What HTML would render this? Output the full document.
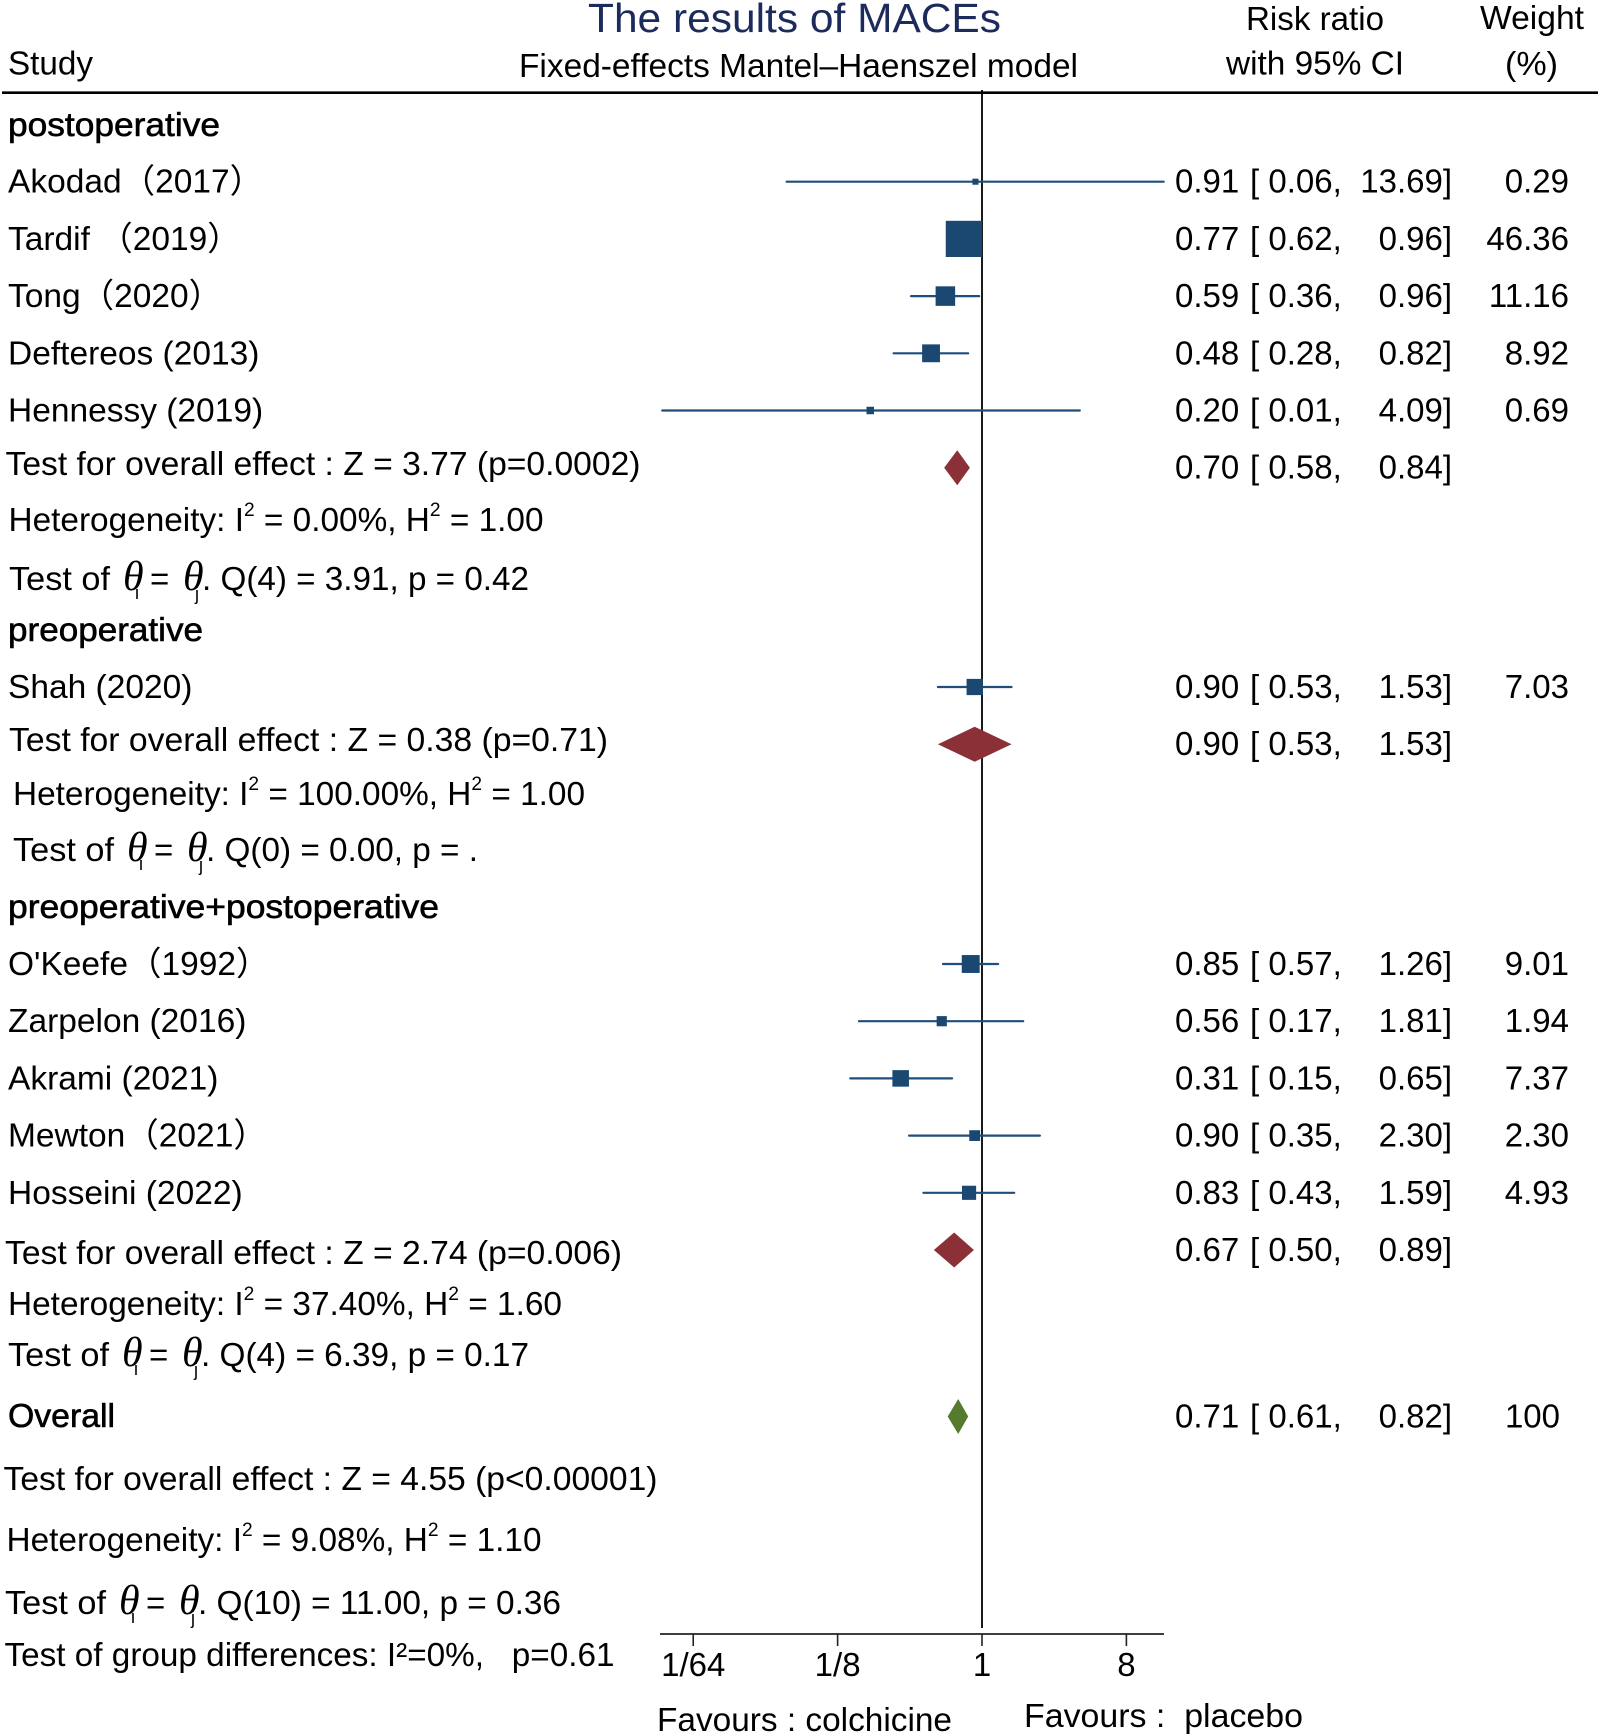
<!DOCTYPE html>
<html lang="en">
<head>
<meta charset="utf-8">
<title>The results of MACEs</title>
<style>
html,body{margin:0;padding:0;background:#fff;}
svg{display:block;}
text{font-family:"Liberation Sans","Noto Sans CJK SC",sans-serif;font-size:33px;fill:#000;}
.head{stroke:#000;stroke-width:.6px;}
.theta{font-family:"Liberation Serif",serif;font-style:italic;font-size:42px;}
.sub{font-size:18px;}
.study{font-size:33.5px;}
</style>
</head>
<body>
<svg id="chart" xmlns="http://www.w3.org/2000/svg" width="1600" height="1736" viewBox="0 0 1600 1736">
<rect x="0" y="0" width="1600" height="1736" fill="#fff"/>

<text x="588" y="32" style="font-size:41px;fill:#1c2b5c" textLength="413" lengthAdjust="spacingAndGlyphs">The results of MACEs</text>
<text x="8" y="74.5" textLength="85" lengthAdjust="spacingAndGlyphs">Study</text>
<text x="519" y="77" textLength="559" lengthAdjust="spacingAndGlyphs">Fixed-effects Mantel–Haenszel model</text>
<text x="1246" y="30" textLength="138" lengthAdjust="spacingAndGlyphs">Risk ratio</text>
<text x="1226" y="74.5" textLength="178" lengthAdjust="spacingAndGlyphs">with 95% CI</text>
<text x="1480" y="29" textLength="104" lengthAdjust="spacingAndGlyphs">Weight</text>
<text x="1505" y="75" textLength="53" lengthAdjust="spacingAndGlyphs">(%)</text>
<line x1="2" y1="92.7" x2="1598" y2="92.7" stroke="#000" stroke-width="2.6"/>

<text class="head" x="8" y="136" textLength="212" lengthAdjust="spacingAndGlyphs">postoperative</text>
<text x="5.5" y="475" textLength="635" lengthAdjust="spacingAndGlyphs">Test for overall effect : Z = 3.77 (p=0.0002)</text>
<text x="8.5" y="531" textLength="535" lengthAdjust="spacingAndGlyphs">Heterogeneity: I<tspan dy="-15" style="font-size:19px">2</tspan><tspan dy="15"> = 0.00%, H</tspan><tspan dy="-15" style="font-size:19px">2</tspan><tspan dy="15"> = 1.00</tspan></text>
<g>
  <text x="9" y="590" textLength="101" lengthAdjust="spacingAndGlyphs">Test of</text>
  <text class="theta" x="123" y="590">θ</text>
  <text class="sub" x="135" y="599">i</text>
  <text x="150" y="590">=</text>
  <text class="theta" x="183" y="590">θ</text>
  <text class="sub" x="195" y="600">j</text>
  <text x="202" y="590" textLength="327" lengthAdjust="spacingAndGlyphs">. Q(4) = 3.91, p = 0.42</text>
</g>

<text class="head" x="8" y="641" textLength="195" lengthAdjust="spacingAndGlyphs">preoperative</text>
<text x="9" y="751" textLength="599" lengthAdjust="spacingAndGlyphs">Test for overall effect : Z = 0.38 (p=0.71)</text>
<text x="13" y="805" textLength="572" lengthAdjust="spacingAndGlyphs">Heterogeneity: I<tspan dy="-15" style="font-size:19px">2</tspan><tspan dy="15"> = 100.00%, H</tspan><tspan dy="-15" style="font-size:19px">2</tspan><tspan dy="15"> = 1.00</tspan></text>
<g>
  <text x="13" y="861" textLength="101" lengthAdjust="spacingAndGlyphs">Test of</text>
  <text class="theta" x="127" y="861">θ</text>
  <text class="sub" x="139" y="870">i</text>
  <text x="154" y="861">=</text>
  <text class="theta" x="187" y="861">θ</text>
  <text class="sub" x="199" y="871">j</text>
  <text x="206" y="861" textLength="272" lengthAdjust="spacingAndGlyphs">. Q(0) = 0.00, p = .</text>
</g>

<text class="head" x="8" y="918" textLength="431" lengthAdjust="spacingAndGlyphs">preoperative+postoperative</text>
<text x="5" y="1264" textLength="617" lengthAdjust="spacingAndGlyphs">Test for overall effect : Z = 2.74 (p=0.006)</text>
<text x="8" y="1315" textLength="554" lengthAdjust="spacingAndGlyphs">Heterogeneity: I<tspan dy="-15" style="font-size:19px">2</tspan><tspan dy="15"> = 37.40%, H</tspan><tspan dy="-15" style="font-size:19px">2</tspan><tspan dy="15"> = 1.60</tspan></text>
<g>
  <text x="8" y="1366" textLength="101" lengthAdjust="spacingAndGlyphs">Test of</text>
  <text class="theta" x="122" y="1366">θ</text>
  <text class="sub" x="134" y="1375">i</text>
  <text x="149" y="1366">=</text>
  <text class="theta" x="182" y="1366">θ</text>
  <text class="sub" x="194" y="1376">j</text>
  <text x="201" y="1366" textLength="328" lengthAdjust="spacingAndGlyphs">. Q(4) = 6.39, p = 0.17</text>
</g>

<text class="head" x="8" y="1427" textLength="107" lengthAdjust="spacingAndGlyphs">Overall</text>
<text x="3.5" y="1490" textLength="654" lengthAdjust="spacingAndGlyphs">Test for overall effect : Z = 4.55 (p&lt;0.00001)</text>
<text x="6.5" y="1551" textLength="535" lengthAdjust="spacingAndGlyphs">Heterogeneity: I<tspan dy="-15" style="font-size:19px">2</tspan><tspan dy="15"> = 9.08%, H</tspan><tspan dy="-15" style="font-size:19px">2</tspan><tspan dy="15"> = 1.10</tspan></text>
<g>
  <text x="5" y="1614" textLength="101" lengthAdjust="spacingAndGlyphs">Test of</text>
  <text class="theta" x="119" y="1614">θ</text>
  <text class="sub" x="131" y="1623">i</text>
  <text x="146" y="1614">=</text>
  <text class="theta" x="179" y="1614">θ</text>
  <text class="sub" x="191" y="1624">j</text>
  <text x="198" y="1614" textLength="363" lengthAdjust="spacingAndGlyphs">. Q(10) = 11.00, p = 0.36</text>
</g>
<text x="4.5" y="1666" textLength="610" lengthAdjust="spacingAndGlyphs">Test of group differences: I²=0%,&#160;&#160;&#160;p=0.61</text>

<text x="657" y="1731" textLength="295" lengthAdjust="spacingAndGlyphs">Favours : colchicine</text>
<text x="1024" y="1727" textLength="279" lengthAdjust="spacingAndGlyphs">Favours :&#160;&#160;placebo</text>

<g id="marks"></g>
</svg>

<script>
const studies = ["Akodad（2017）","Tardif （2019）","Tong（2020）","Deftereos (2013)","Hennessy (2019)","Shah (2020)","O'Keefe（1992）","Zarpelon (2016)","Akrami (2021)","Mewton（2021）","Hosseini (2022)"];
const studyGroups = [0,0,0,0,0,1,2,2,2,2,2];
const studyRR = [0.91,0.77,0.59,0.48,0.20,0.90,0.85,0.56,0.31,0.90,0.83];
const studyLo = [0.06,0.62,0.36,0.28,0.01,0.53,0.57,0.17,0.15,0.35,0.43];
const studyHi = [13.69,0.96,0.96,0.82,4.09,1.53,1.26,1.81,0.65,2.30,1.59];
const studyWeight = [0.29,46.36,11.16,8.92,0.69,7.03,9.01,1.94,7.37,2.30,4.93];

const summaryNames = ["postoperative","preoperative","combined","overall"];
const summaryRR = [0.70,0.90,0.67,0.71];
const summaryLo = [0.58,0.53,0.50,0.61];
const summaryHi = [0.84,1.53,0.89,0.82];
const summaryWeight = ["","","","100"];

const tickValues = [1/64,1/8,1,8];
const tickLabels = ["1/64","1/8","1","8"];

const NS = "http://www.w3.org/2000/svg";
const marks = document.getElementById("marks");

function xScale(v){ return 982 + 48.13 * Math.log2(v); }
function groupTop(g){
  if (g === 0) return 181.7;
  if (g === 1) return 687;
  if (g === 2) return 964;
  return 1416.5;
}
function rowY(g, i){ return groupTop(g) + 57.2 * i; }
function summaryY(g, count){ return rowY(g, count); }
function markSize(w){ return 4.8 * Math.sqrt(w) + 3.5; }

function make(tag, attrs, text){
  const el = document.createElementNS(NS, tag);
  for (const k in attrs) el.setAttribute(k, attrs[k]);
  if (text !== undefined) el.textContent = text;
  marks.appendChild(el);
  return el;
}

function drawValues(y, rr, lo, hi, weightText, key){
  let el = make("text", {x:1175, y:y+11}, rr.toFixed(2));
  
  
  el = make("text", {x:1250, y:y+11}, "[ " + lo.toFixed(2) + ",");
  
  
  el = make("text", {x:1452, y:y+11, "text-anchor":"end"}, hi.toFixed(2) + "]");
  
  
  if (weightText !== "") {
    el = make("text", {x: key === "overall" ? 1560 : 1569, y:y+11, "text-anchor":"end"}, weightText);
    
    
  }
}

/* reference line */
const refLine = make("line", {x1:xScale(1), x2:xScale(1), y1:90, y2:1628, stroke:"#000", "stroke-width":1.8});



/* study rows */
const groupCounts = [0,0,0];
studies.forEach(function(name, s){
  const g = studyGroups[s];
  const y = rowY(g, groupCounts[g]);
  groupCounts[g]++;

  const label = make("text", {x:8, y:y+11, class:"study"}, name);
  
  

  const ci = make("line", {x1:xScale(studyLo[s]), x2:xScale(studyHi[s]), y1:y, y2:y, stroke:"#1f4e7c", "stroke-width":2.2, "stroke-linecap":"round"});
  
  

  const size = markSize(studyWeight[s]);
  const box = make("rect", {x:xScale(studyRR[s])-size/2, y:y-size/2, width:size, height:size, fill:"#1a4871"});
  
  

  drawValues(y, studyRR[s], studyLo[s], studyHi[s], studyWeight[s].toFixed(2), "study");
});

/* summary diamonds */
summaryNames.forEach(function(name, k){
  const y = summaryY(k, k < 3 ? groupCounts[k] : 0);
  const color = k === 3 ? "#567a2e" : "#8c3038";
  const half = 17.5;
  const pts = [
    xScale(summaryLo[k]) + "," + y,
    xScale(summaryRR[k]) + "," + (y-half),
    xScale(summaryHi[k]) + "," + y,
    xScale(summaryRR[k]) + "," + (y+half)
  ].join(" ");
  const d = make("polygon", {points:pts, fill:color});
  
  
  drawValues(y, summaryRR[k], summaryLo[k], summaryHi[k], summaryWeight[k], name);
});

/* x axis */
const axis = make("line", {x1:660, x2:1164, y1:1634, y2:1634, stroke:"#222", "stroke-width":1.8});


tickValues.forEach(function(v, i){
  const t = make("line", {x1:xScale(v), x2:xScale(v), y1:1634, y2:1646, stroke:"#222", "stroke-width":1.6});
  
  
  const l = make("text", {x:xScale(v), y:1676, "text-anchor":"middle"}, tickLabels[i]);
  
  
});
</script>
</body>
</html>
